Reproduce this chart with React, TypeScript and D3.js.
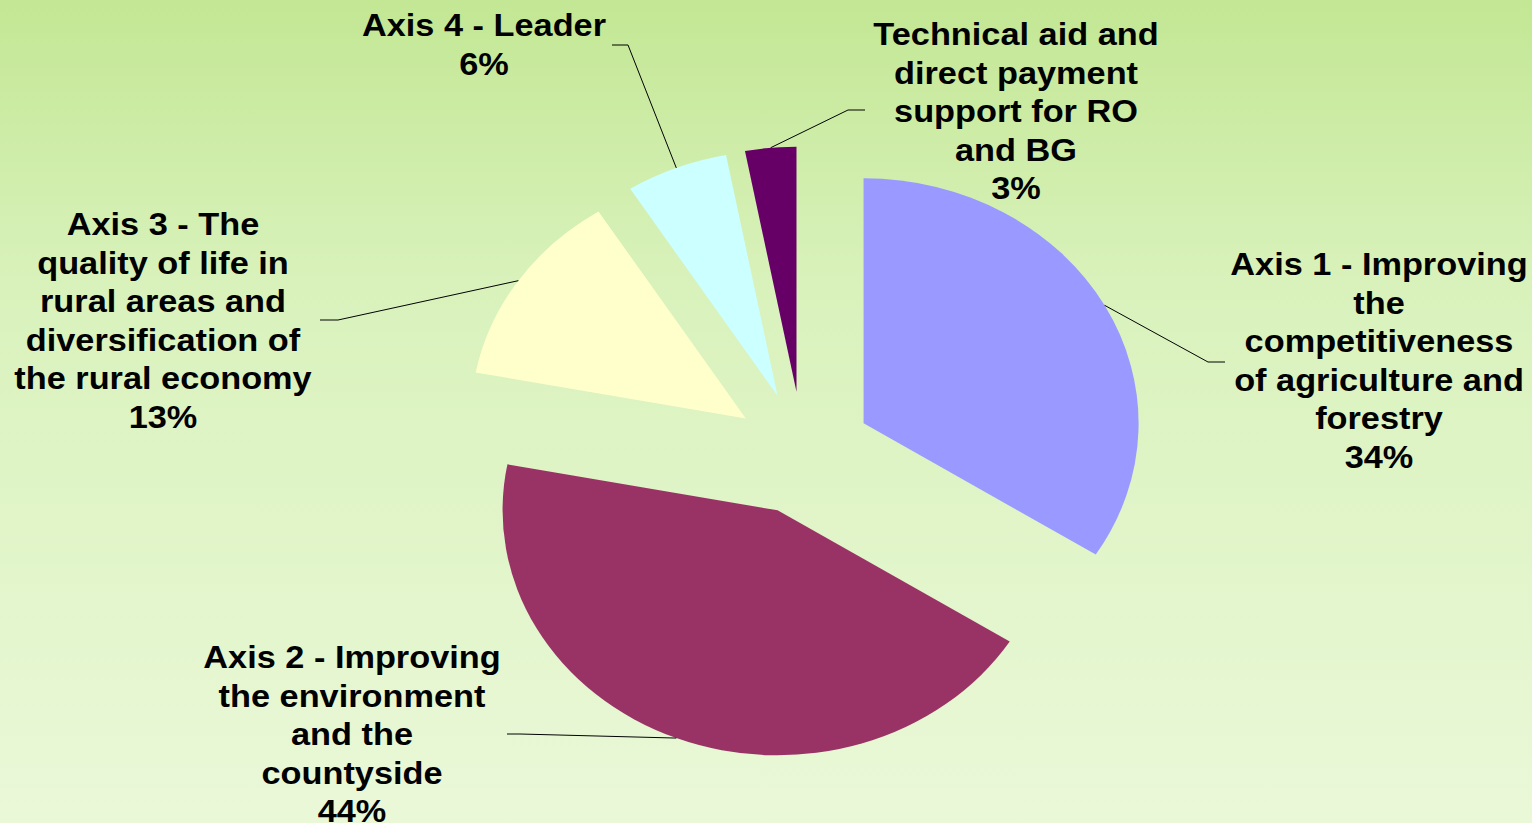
import React from "react";
import * as d3 from "d3";

// ---- data ----
const categories: string[][] = [
  ["Axis 1 - Improving", "the", "competitiveness", "of agriculture and", "forestry"],
  ["Axis 2 - Improving", "the environment", "and the", "countyside"],
  ["Axis 3 - The", "quality of life in", "rural areas and", "diversification of", "the rural economy"],
  ["Axis 4 - Leader"],
  ["Technical aid and", "direct payment", "support for RO", "and BG"],
];
const shares: number[] = [34, 44, 13, 6, 3];
const colors: string[] = ["#9999FF", "#993366", "#FFFFCC", "#CCFFFF", "#660066"];

// ---- layout ----
const W = 1532;
const H = 823;
const CX = 803;
const CY = 453;
const R = 245;
const SX = 1.1224;
const EXPLODE = 61.6;
const FONT = 30.5;
const LINE = 38.6;
const TSX = 1.125;

const labelLayout = [
  { x: 1379, y: 275, elbow: [1208, 362], end: [1225, 362] },
  { x: 352, y: 668, elbow: [520, 734], end: [507, 734] },
  { x: 163, y: 235, elbow: [338, 320], end: [320, 320] },
  { x: 484, y: 36, elbow: [628, 45], end: [612, 45] },
  { x: 1016, y: 45, elbow: [848, 110], end: [865, 110] },
];

export default function App() {
  const pie = d3
    .pie<number>()
    .sort(null)
    .startAngle(0)
    .endAngle(2 * Math.PI);
  const arcs = pie(shares);
  const arcGen = d3.arc<d3.PieArcDatum<number>>().innerRadius(0).outerRadius(R);

  return (
    <svg
      width={W}
      height={H}
      style={{ position: "fixed", left: 0, top: 0, display: "block" }}
      fontFamily="'Liberation Sans', Arial, Helvetica, sans-serif"
    >
      <defs>
        <linearGradient id="bg" x1="0" y1="0" x2="0" y2="1">
          <stop offset="0" stopColor="#C3E794" />
          <stop offset="0.35" stopColor="#D9F2BC" />
          <stop offset="1" stopColor="#EAF8D8" />
        </linearGradient>
      </defs>
      <rect x={0} y={0} width={W} height={H} fill="url(#bg)" />
      {arcs.map((a, i) => {
        const mid = (a.startAngle + a.endAngle) / 2;
        const dx = EXPLODE * Math.sin(mid) * SX;
        const dy = -EXPLODE * Math.cos(mid);
        const ox = CX + dx;
        const oy = CY + dy;
        const px = ox + R * Math.sin(mid) * SX;
        const py = oy - R * Math.cos(mid);
        const lay = labelLayout[i];
        return (
          <g key={i}>
            <path
              d={arcGen(a) || ""}
              transform={`translate(${ox},${oy}) scale(${SX},1)`}
              fill={colors[i]}
            />
            <polyline
              points={`${px},${py} ${lay.elbow[0]},${lay.elbow[1]} ${lay.end[0]},${lay.end[1]}`}
              fill="none"
              stroke="#000"
              strokeWidth={1}
            />
          </g>
        );
      })}
      {arcs.map((a, i) => {
        const lay = labelLayout[i];
        const lines = [...categories[i], `${shares[i]}%`];
        return (
          <text
            key={"t" + i}
            transform={`translate(${lay.x},${lay.y}) scale(${TSX},1)`}
            textAnchor="middle"
            fontSize={FONT}
            fontWeight="bold"
            fill="#000"
          >
            {lines.map((ln, j) => (
              <tspan key={j} x={0} y={j * LINE}>
                {ln}
              </tspan>
            ))}
          </text>
        );
      })}
    </svg>
  );
}
